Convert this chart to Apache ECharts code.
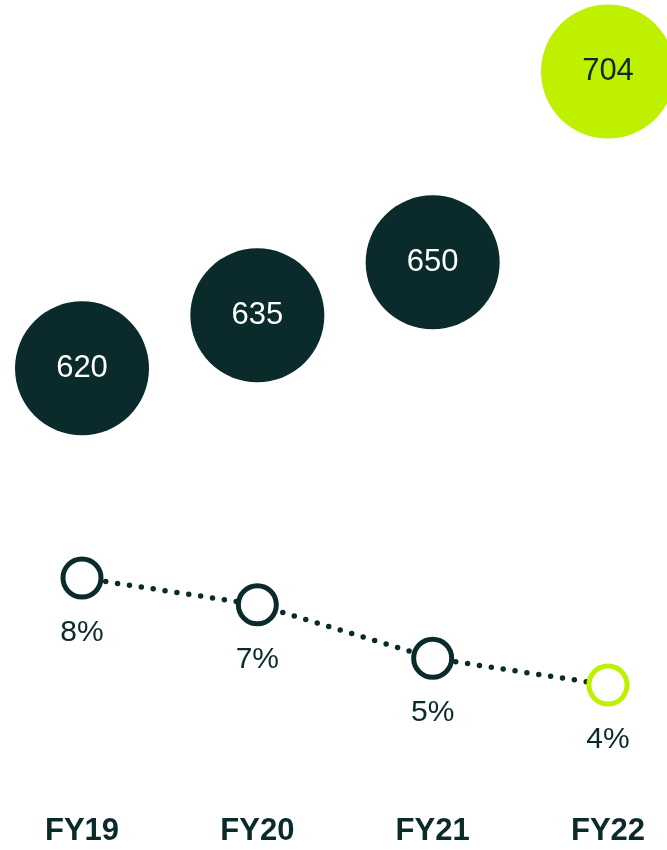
<!DOCTYPE html>
<html>
<head>
<meta charset="utf-8">
<script src="https://cdn.jsdelivr.net/npm/echarts@6/dist/echarts.min.js"></script>
<style>
  html, body { margin: 0; padding: 0; background: #ffffff; }
  #chart { width: 667px; height: 850px; }
</style>
</head>
<body>
<div id="chart"></div>
<script>
// Fiscal years and the two measures plotted per year
const categories = ['FY19', 'FY20', 'FY21', 'FY22'];
const totals = [620, 635, 650, 704];
const rates = [8, 7, 5, 4];

const DARK = '#0b2a2b';
const LIME = '#bff000';
const FONT = '"Liberation Sans", Arial, sans-serif';

// The latest year is highlighted in lime
const isLatest = i => i === categories.length - 1;

const chart = echarts.init(document.getElementById('chart'), null, { renderer: 'canvas' });

chart.setOption({
  animation: false,
  backgroundColor: '#ffffff',
  grid: [
    { left: 82, right: 59, top: 15, height: 424 },
    { left: 82, right: 59, top: 524.5, height: 267.5 }
  ],
  xAxis: [
    {
      gridIndex: 0, type: 'category', data: categories, boundaryGap: false,
      axisLine: { show: false }, axisTick: { show: false }, axisLabel: { show: false },
      splitLine: { show: false }
    },
    {
      gridIndex: 1, type: 'category', data: categories, boundaryGap: false,
      axisLine: { show: false }, axisTick: { show: false }, splitLine: { show: false },
      axisLabel: {
        show: true, margin: 24, color: DARK, fontFamily: FONT,
        fontWeight: 'bold', fontSize: 31
      }
    }
  ],
  yAxis: [
    { gridIndex: 0, type: 'value', min: 600, max: 720, show: false },
    { gridIndex: 1, type: 'value', min: 0, max: 10, show: false }
  ],
  series: [
    {
      type: 'scatter',
      xAxisIndex: 0, yAxisIndex: 0,
      symbol: 'circle',
      symbolSize: 134,
      itemStyle: { opacity: 1 },
      data: totals.map((v, i) => ({
        value: v,
        itemStyle: { color: isLatest(i) ? LIME : DARK, opacity: 1 },
        label: { color: isLatest(i) ? DARK : '#ffffff' }
      })),
      label: {
        show: true, position: 'inside', fontFamily: FONT, fontSize: 31,
        formatter: p => String(p.value)
      }
    },
    {
      type: 'line',
      xAxisIndex: 1, yAxisIndex: 1,
      symbol: 'circle',
      symbolSize: 38,
      lineStyle: { color: DARK, width: 5.5, type: [0, 12], cap: 'round' },
      data: rates.map((v, i) => ({
        value: v,
        itemStyle: { color: '#ffffff', borderColor: isLatest(i) ? LIME : DARK, borderWidth: 5, opacity: 1 }
      })),
      label: {
        show: true, position: 'bottom', distance: 18, color: DARK,
        fontFamily: FONT, fontSize: 30,
        formatter: p => p.value + '%'
      }
    }
  ]
});
</script>
</body>
</html>
